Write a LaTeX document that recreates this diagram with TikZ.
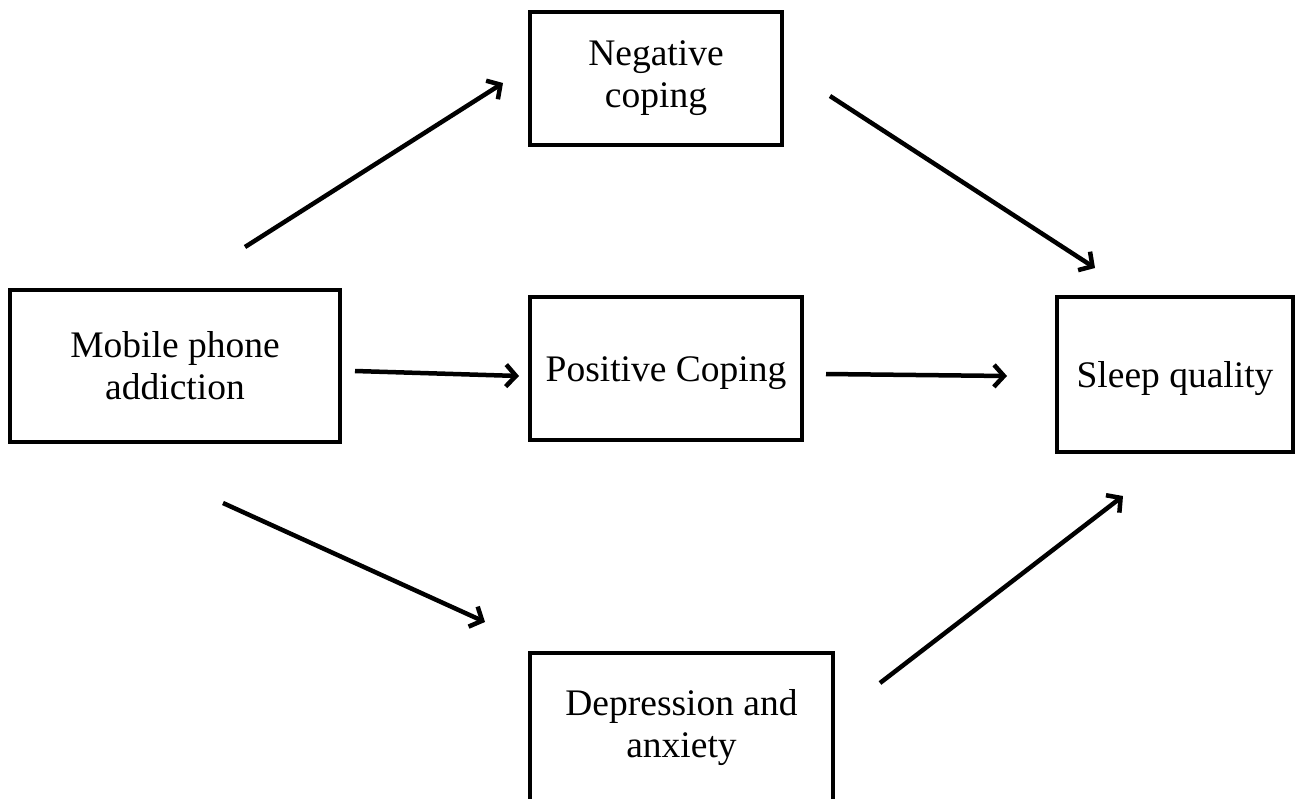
\documentclass[tikz,border=0pt]{standalone}
\usepackage{fontspec}
\setmainfont{Liberation Serif}
\usetikzlibrary{arrows.meta}
\tikzset{
  box/.style={draw, line width=4.5pt, inner sep=0pt, align=center,
    font=\fontsize{37.5}{42}\selectfont},
  link/.style={line width=4.5pt, -{Straight Barb[length=10pt,width=22pt]}}
}
\begin{document}
\begin{tikzpicture}[x=1pt,y=-1pt]
      \useasboundingbox (0,0) rectangle (1298,798);
      \draw
        (175,366) node[box, minimum width=330pt, minimum height=152pt] (phone){Mobile phone\\addiction}
        (656,78.5) node[box, minimum width=252pt, minimum height=133pt] (neg){Negative\\coping}
        (666,368.5) node[box, minimum width=272pt, minimum height=143pt, text height=35pt] (pos){Positive Coping}
        (681.5,728) node[box, minimum width=303pt, minimum height=150pt] (dep){Depression and\\anxiety}
        (1175,374.5) node[box, minimum width=236pt, minimum height=155pt, text height=35pt] (sleep){Sleep quality};
      \coordinate (phone-neg) at (245,247);
      \coordinate (neg-in) at (503,83);
      \coordinate (phone-pos) at (355,371);
      \coordinate (pos-in) at (519,376);
      \coordinate (phone-dep) at (223,503);
      \coordinate (dep-in) at (485,622);
      \coordinate (neg-out) at (830,96);
      \coordinate (sleep-neg) at (1095,268);
      \coordinate (pos-out) at (826,374);
      \coordinate (sleep-pos) at (1007,376);
      \coordinate (dep-out) at (880,683);
      \coordinate (sleep-dep) at (1123,496);
      \begin{scope}[link]
        \draw (phone-neg) to (neg-in);
        \draw (phone-pos) to (pos-in);
        \draw (phone-dep) to (dep-in);
        \draw (neg-out) to (sleep-neg);
        \draw (pos-out) to (sleep-pos);
        \draw (dep-out) to (sleep-dep);
      \end{scope}
    \end{tikzpicture}
\end{document}
